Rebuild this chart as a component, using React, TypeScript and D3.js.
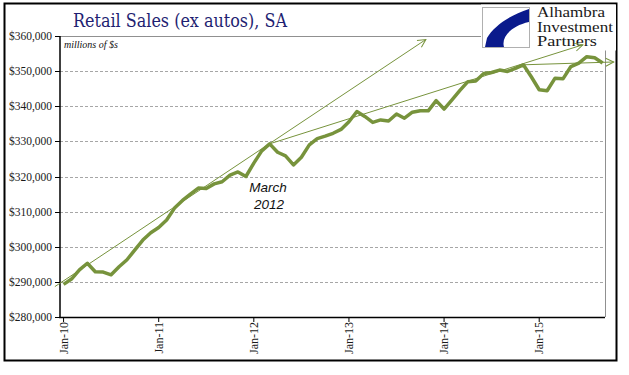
import React from "react";
import * as d3 from "d3";

const values: number[] = [
  289300, 290800, 293400, 295300, 292900, 292800, 292000, 294300, 296300, 299100, 301900, 304000,
  305500, 307600, 311000, 313200, 315000, 316700, 316600, 317900, 318500, 320400, 321300, 320000,
  323800, 327300, 329300, 326900, 325900, 323300, 325500, 329000, 330800, 331500, 332300, 333400,
  335600, 338500, 337100, 335400, 336100, 335800, 337800, 336600, 338300, 338700, 338700, 341600,
  339200, 341800, 344500, 347000, 347200, 349300, 349600, 350300, 349900, 350800, 351800, 348400,
  344700, 344400, 348000, 347800, 351300, 352300, 354100, 353800, 352300,
];
const xTickIdx: number[] = [0, 12, 24, 36, 48, 60];
const xTickLabels: string[] = ["Jan-10", "Jan-11", "Jan-12", "Jan-13", "Jan-14", "Jan-15"];
const yTicks: number[] = [280000, 290000, 300000, 310000, 320000, 330000, 340000, 350000, 360000];
// trend arrows: [startIdx, startVal, endIdx, endVal]
const trendLines: number[][] = [
  [-1.1, 288650, 45.7, 359000],
  [26, 329300, 65.5, 357500],
  [58, 351800, 69.4, 352600],
];
const logoLines: string[] = ["Alhambra", "Investment", "Partners"];
const logoWidths: number[] = [68, 76, 60];

const OLIVE = "#77933C";

export default function App() {
  const x = d3.scaleLinear().domain([-0.45, 68.3]).range([60, 605]);
  const y = d3.scaleLinear().domain([280000, 360000]).range([317, 36]);
  const line = d3
    .line<number>()
    .x((_, i) => x(i))
    .y((d) => y(d));
  const fmt = (v: number) => "$" + d3.format(",")(v);

  return (
    <svg
      width={629}
      height={375}
      style={{ position: "absolute", left: 0, top: 0, background: "#fff" }}
      xmlns="http://www.w3.org/2000/svg"
    >
      <defs>
        <marker
          id="arr"
          markerUnits="userSpaceOnUse"
          markerWidth={12}
          markerHeight={12}
          refX={9}
          refY={5}
          orient="auto"
        >
          <path d="M1,1 L9,5 L1,9" fill="none" stroke={OLIVE} strokeWidth={1} />
        </marker>
      </defs>
      <rect x={0} y={0} width={629} height={375} fill="#fff" />
      <rect x={4.5} y={3.5} width={612} height={357} fill="none" stroke="#000" strokeWidth={2} />

      {yTicks.slice(1, -1).map((t) => (
        <line
          key={t}
          x1={60}
          x2={605}
          y1={Math.round(y(t)) + 0.5}
          y2={Math.round(y(t)) + 0.5}
          stroke="#a6a6a6"
          strokeWidth={1}
          strokeDasharray="3,2"
        />
      ))}
      <line x1={60} x2={605} y1={y(360000) + 0.5} y2={y(360000) + 0.5} stroke="#909090" strokeWidth={1} />
      <line x1={605.5} x2={605.5} y1={y(360000)} y2={317} stroke="#909090" strokeWidth={1} />

      <line x1={60} x2={60} y1={y(360000)} y2={318} stroke="#000" strokeWidth={1.5} />
      <line x1={59} x2={605} y1={317.5} y2={317.5} stroke="#000" strokeWidth={1.5} />
      {yTicks.map((t) => (
        <g key={t}>
          <line x1={55} x2={60} y1={Math.round(y(t)) + 0.5} y2={Math.round(y(t)) + 0.5} stroke="#000" />
          <text
            x={52}
            y={y(t)}
            dy="0.35em"
            textAnchor="end"
            fontFamily="Liberation Serif, serif"
            fontSize={11.5}
            fill="#1a1a1a"
          >
            {fmt(t)}
          </text>
        </g>
      ))}
      {xTickIdx.map((t, i) => (
        <g key={t}>
          <line x1={x(t)} x2={x(t)} y1={317} y2={322} stroke="#000" />
          <text
            transform={`translate(${x(t)},322) rotate(-90)`}
            dy="0.35em"
            textAnchor="end"
            fontFamily="Liberation Serif, serif"
            fontSize={12}
            fill="#1a1a1a"
          >
            {xTickLabels[i]}
          </text>
        </g>
      ))}

      <text
        x={73}
        y={27}
        fontFamily="'DejaVu Serif', Georgia, serif"
        fontSize={18.5}
        textLength={214}
        lengthAdjust="spacingAndGlyphs"
        fill="#1f1f72"
      >
        Retail Sales (ex autos), SA
      </text>
      <text x={64} y={48} fontFamily="Liberation Serif, serif" fontStyle="italic" fontSize={10} fill="#111">
        millions of $s
      </text>

      <rect x={481} y={4.5} width={135} height={46} fill="#fff" />
      <rect x={482.5} y={7.5} width={47} height={40} fill="#fff" stroke="#b0b0b0" strokeWidth={1} />
      <path
        d="M529,9 C510,15 494,26 487,38 L485,47 L504,47 C501,37 511,26 529,22 Z"
        fill="#0a1a8c"
      />
      {logoLines.map((s, i) => (
        <text
          key={s}
          x={537}
          y={17 + i * 14.5}
          fontFamily="Liberation Serif, serif"
          fontSize={15.5}
          textLength={logoWidths[i]}
          lengthAdjust="spacingAndGlyphs"
          fill="#1a1a1a"
        >
          {s}
        </text>
      ))}

      <path
        d={line(values) || ""}
        fill="none"
        stroke={OLIVE}
        strokeWidth={3.5}
        strokeLinejoin="round"
      />

      {trendLines.map((l, i) => (
        <line
          key={i}
          x1={x(l[0])}
          y1={y(l[1])}
          x2={x(l[2])}
          y2={y(l[3])}
          stroke={OLIVE}
          strokeWidth={1}
          markerEnd="url(#arr)"
        />
      ))}

      <text
        x={268}
        y={192}
        textAnchor="middle"
        fontFamily="'Liberation Sans', Arial, sans-serif"
        fontStyle="italic"
        fontSize={13.5}
        fill="#111"
      >
        March
      </text>
      <text
        x={269}
        y={209}
        textAnchor="middle"
        fontFamily="'Liberation Sans', Arial, sans-serif"
        fontStyle="italic"
        fontSize={13.5}
        fill="#111"
      >
        2012
      </text>
    </svg>
  );
}
